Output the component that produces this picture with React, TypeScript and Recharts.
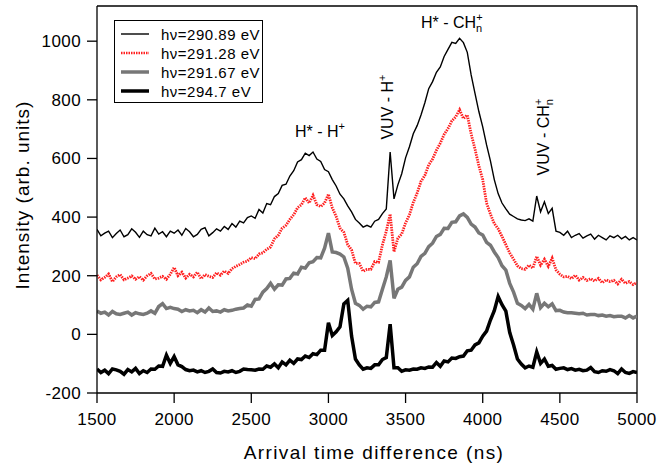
import React from 'react';
import { LineChart, Line, XAxis, YAxis, ReferenceLine } from 'recharts';

// arrival time grid: 1500 ns to 5000 ns, 25 ns step (141 samples)
const T_START = 1500;
const T_STEP = 25;

const series290_89 = [
  358, 336, 345, 352, 330, 344, 356, 333, 340, 360, 348, 331, 352, 340, 336, 362, 342, 350, 333, 352,
  345, 356, 338, 361, 350, 333, 341, 358, 364, 336, 347, 360, 352, 368, 358, 378, 366, 386, 380, 398,
  404, 396, 426, 414, 446, 442, 470, 480, 508, 512, 540, 558, 588, 596, 618, 610, 622, 598, 590, 562,
  555, 528, 506, 478, 462, 438, 418, 392, 380, 366, 372, 366, 386, 392, 412, 428, 622, 462, 510, 548,
  602, 640, 684, 712, 748, 790, 838, 862, 894, 912, 948, 972, 996, 992, 1010, 995, 962, 885, 822, 760,
  708, 646, 592, 528, 480, 448, 428, 410, 402, 394, 390, 388, 394, 386, 472, 418, 452, 412, 430, 352,
  348, 338, 352, 330, 338, 344, 328, 336, 342, 325, 338, 330, 322, 336, 330, 338, 326, 334, 322, 330,
  322,
];

const series291_28 = [
  202, 186, 194, 206, 180, 196, 204, 186, 192, 199, 188, 197, 185, 200, 208, 189, 192, 198, 188, 205,
  228, 200, 212, 192, 205, 196, 212, 190, 204, 198, 194, 210, 202, 216, 208, 224, 232, 238, 246, 250,
  262, 258, 274, 278, 290, 298, 326, 338, 362, 372, 392, 408, 432, 442, 466, 448, 474, 442, 436, 448,
  478, 432, 402, 362, 348, 306, 288, 242, 242, 215, 222, 222, 248, 246, 305, 352, 410, 282, 328, 342,
  380, 408, 450, 482, 522, 542, 578, 598, 628, 652, 682, 702, 728, 742, 766, 736, 748, 684, 632, 575,
  528, 448, 410, 378, 360, 334, 306, 278, 256, 234, 224, 222, 236, 226, 266, 236, 256, 232, 260, 220,
  205, 196, 198, 190, 202, 185, 194, 184, 190, 182, 191, 176, 186, 180, 184, 172, 188, 174, 180, 170,
  176,
];

const series291_67 = [
  80, 72, 76, 66, 78, 70, 68, 72, 76, 66, 74, 70, 68, 72, 80, 72, 95, 105, 88, 92,
  88, 86, 78, 84, 80, 82, 74, 84, 76, 90, 78, 80, 76, 84, 80, 82, 86, 88, 90, 100,
  96, 119, 121, 144, 156, 174, 154, 169, 168, 189, 191, 209, 206, 229, 226, 244, 248, 262, 261, 294,
  345, 281, 279, 274, 264, 226, 154, 106, 99, 86, 96, 94, 109, 111, 154, 196, 252, 123, 154, 161,
  184, 196, 229, 241, 266, 276, 299, 311, 334, 341, 362, 361, 382, 384, 404, 411, 399, 376, 366, 346,
  339, 314, 304, 281, 262, 234, 219, 174, 144, 106, 99, 88, 102, 86, 140, 91, 106, 94, 104, 81,
  82, 76, 74, 74, 72, 70, 72, 66, 68, 68, 64, 66, 62, 64, 60, 62, 62, 56, 64, 56,
  62,
];

const series294_7 = [
  -118, -130, -122, -134, -118, -121, -126, -136, -120, -128, -116, -134, -124, -130, -118, -119, -108, -109, -71, -99,
  -76, -104, -110, -120, -124, -122, -128, -124, -130, -126, -118, -130, -132, -126, -128, -124, -130, -126, -118, -120,
  -121, -122, -118, -119, -108, -112, -101, -114, -94, -104, -88, -99, -84, -86, -74, -79, -66, -69, -54, -54,
  40, -4, 9, 26, 104, 116, -6, -84, -104, -119, -114, -116, -104, -104, -86, -79, 35, -114, -114, -126,
  -121, -122, -118, -119, -114, -116, -111, -112, -96, -109, -91, -94, -81, -82, -76, -74, -56, -54, -36, -29,
  -6, 11, 49, 81, 129, 101, 79, 6, -36, -84, -101, -114, -108, -112, -60, -99, -84, -109, -106, -119,
  -116, -114, -120, -117, -122, -119, -124, -122, -113, -127, -130, -124, -126, -120, -124, -134, -118, -130, -133, -127,
  -130,
];

const xTicks = [1500, 2000, 2500, 3000, 3500, 4000, 4500, 5000];
const yTicks = [-200, 0, 200, 400, 600, 800, 1000];

const legendItems = [
  { label: 'hν=290.89 eV', color: '#000000', width: 1.4, dash: undefined },
  { label: 'hν=291.28 eV', color: '#ff2020', width: 2.5, dash: '1.5 1' },
  { label: 'hν=291.67 eV', color: '#777777', width: 3.5, dash: undefined },
  { label: 'hν=294.7 eV', color: '#000000', width: 3.5, dash: undefined },
];

const data = series290_89.map((v, i) => ({
  t: T_START + i * T_STEP,
  a: v,
  b: series291_28[i],
  c: series291_67[i],
  d: series294_7[i],
}));

const FONT = '"Liberation Sans", Arial, Helvetica, sans-serif';

const abs = (left: number, top: number, extra: React.CSSProperties = {}): React.CSSProperties => ({
  position: 'absolute',
  left,
  top,
  fontFamily: FONT,
  color: '#000',
  whiteSpace: 'nowrap',
  lineHeight: 1,
  ...extra,
});

const supStyle: React.CSSProperties = { fontSize: 11, position: 'relative', top: -7 };
const subStyle: React.CSSProperties = { fontSize: 11, position: 'relative', top: 4 };

export default function App() {
  return (
    <div style={{ position: 'absolute', left: 0, top: 0, width: 659, height: 463, background: '#fff' }}>
      <LineChart
        width={659}
        height={463}
        data={data}
        margin={{ top: 6, right: 22, bottom: 30, left: 27 }}
      >
        <XAxis
          dataKey="t"
          type="number"
          domain={[1500, 5000]}
          ticks={xTicks}
          allowDataOverflow
          height={40}
          tickSize={10}
          tickMargin={10}
          stroke="#000"
          strokeWidth={1.3}
          tick={{ fill: '#000', fontSize: 17, fontFamily: FONT, letterSpacing: 0.4 }}
        />
        <YAxis
          type="number"
          domain={[-200, 1120]}
          ticks={yTicks}
          allowDataOverflow
          width={70}
          tickSize={10}
          tickMargin={6}
          stroke="#000"
          strokeWidth={1.3}
          tick={{ fill: '#000', fontSize: 17, fontFamily: FONT, letterSpacing: 0.4 }}
        />
        <ReferenceLine y={1120} stroke="#000" strokeWidth={1.3} />
        <ReferenceLine x={5000} stroke="#000" strokeWidth={1.3} />
        <Line dataKey="d" stroke="#000000" strokeWidth={3.5} dot={false} isAnimationActive={false} type="linear" />
        <Line dataKey="c" stroke="#777777" strokeWidth={3.5} dot={false} isAnimationActive={false} type="linear" />
        <Line dataKey="b" stroke="#ff2020" strokeWidth={2.8} strokeDasharray="1.5 1" dot={false} isAnimationActive={false} type="linear" />
        <Line dataKey="a" stroke="#000000" strokeWidth={1.4} dot={false} isAnimationActive={false} type="linear" />
      </LineChart>

      {/* legend box */}
      <div
        style={{
          position: 'absolute',
          left: 114,
          top: 20,
          width: 147,
          height: 81,
          border: '1.3px solid #000',
          background: '#fff',
        }}
      >
        {legendItems.map((item, i) => (
          <div key={item.label} style={{ position: 'absolute', left: 6, top: 6 + i * 19, height: 14, display: 'flex', alignItems: 'center' }}>
            <svg width={28} height={14}>
              <line x1={0} y1={7} x2={28} y2={7} stroke={item.color} strokeWidth={item.width} strokeDasharray={item.dash} />
            </svg>
            <span style={{ marginLeft: 12, fontFamily: FONT, fontSize: 15, letterSpacing: 0.5 }}>{item.label}</span>
          </div>
        ))}
      </div>

      {/* peak annotations */}
      <div style={abs(295, 124, { fontSize: 16 })}>
        H* - H<span style={supStyle}>+</span>
      </div>
      <div style={abs(421, 15, { fontSize: 16 })}>
        H* - CH<span style={subStyle}>n</span><span style={{ ...supStyle, marginLeft: -6 }}>+</span>
      </div>
      <div style={abs(388, 107, { fontSize: 16, transform: 'translate(-50%, -50%) rotate(-90deg)' })}>
        VUV - H<span style={supStyle}>+</span>
      </div>
      <div style={abs(544, 137, { fontSize: 16, transform: 'translate(-50%, -50%) rotate(-90deg)' })}>
        VUV - CH<span style={subStyle}>n</span><span style={{ ...supStyle, marginLeft: -6 }}>+</span>
      </div>

      {/* axis titles */}
      <div style={abs(374, 452, { fontSize: 19, letterSpacing: 1.4, transform: 'translate(-50%, -50%)' })}>
        Arrival time difference (ns)
      </div>
      <div style={abs(22, 195, { fontSize: 19, letterSpacing: 1, transform: 'translate(-50%, -50%) rotate(-90deg)' })}>
        Intensity (arb. units)
      </div>
    </div>
  );
}
